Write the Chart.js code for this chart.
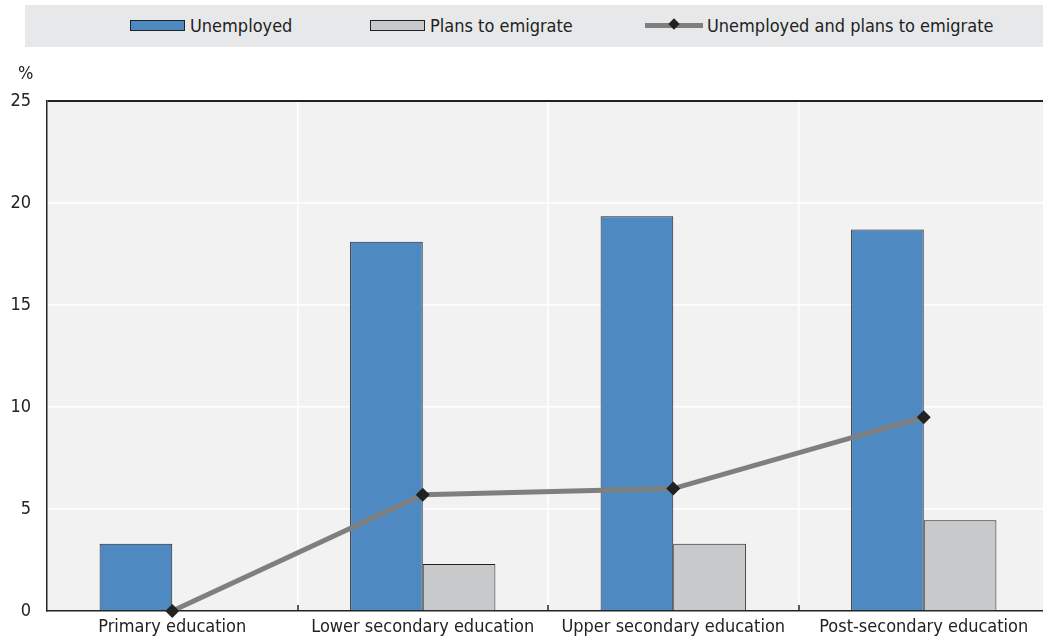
<!DOCTYPE html>
<html>
<head>
<meta charset="utf-8">
<script src="https://cdn.jsdelivr.net/npm/chart.js@4/dist/chart.umd.min.js"></script>
<style>
  html, body { margin: 0; padding: 0; background: #fff; }
  body { width: 1043px; height: 644px; position: relative; overflow: hidden;
         font-family: "DejaVu Sans Condensed", "Liberation Sans Narrow", "Liberation Sans", Arial, sans-serif; color: #222; }
  #chartWrap { position: absolute; left: 0; top: 0; width: 1049px; height: 644px; }
  #legend { position: absolute; left: 25px; top: 5px; width: 1018px; height: 42px; background: #e7e8e9; }
  .item { position: absolute; top: 0; height: 42px; line-height: 42px; font-size: 18px; white-space: nowrap; }
  .sw { position: absolute; top: 15px; width: 55px; height: 11px; border: 1px solid #222; box-sizing: border-box; }
  .lineSw { position: absolute; top: 18px; width: 58px; height: 5px; background: #7f7f7f; }
  .dia { position: absolute; top: 15px; width: 8px; height: 8px; background: #222; transform: rotate(45deg); }
  #pct { position: absolute; left: 18px; top: 62px; font-size: 18px; }
</style>
</head>
<body>
<div id="chartWrap"><canvas id="c" width="1049" height="644"></canvas></div>
<div id="legend">
  <div class="item" style="left:105px"><span class="sw" style="left:0;background:#4f89c1"></span><span style="position:absolute;left:60px">Unemployed</span></div>
  <div class="item" style="left:345px"><span class="sw" style="left:0;background:#c8c9cb"></span><span style="position:absolute;left:60px">Plans to emigrate</span></div>
  <div class="item" style="left:620px"><span class="lineSw" style="left:0"></span><span class="dia" style="left:25px"></span><span style="position:absolute;left:62px">Unemployed and plans to emigrate</span></div>
</div>
<div id="pct">%</div>
<script>
var categories = ["Primary education", "Lower secondary education", "Upper secondary education", "Post-secondary education"];
var unemployed = [3.3, 18.1, 19.35, 18.7];
var plansToEmigrate = [0, 2.3, 3.3, 4.45];
var unemployedAndPlans = [0, 5.7, 6.0, 9.5];
var yTicks = [0, 5, 10, 15, 20, 25];

var FONT = "'DejaVu Sans Condensed', 'Liberation Sans Narrow', 'Liberation Sans', Arial, sans-serif";

var plotBg = {
  id: "plotBg",
  beforeDraw: function (chart) {
    var a = chart.chartArea;
    var ctx = chart.ctx;
    ctx.save();
    ctx.fillStyle = "#f2f2f2";
    ctx.fillRect(a.left, a.top, a.right - a.left, a.bottom - a.top);
    ctx.restore();
  },
  afterDatasetsDraw: function (chart) {
    // small inward tick marks at category boundaries
    var a = chart.chartArea;
    var x = chart.scales.x;
    var ctx = chart.ctx;
    ctx.save();
    ctx.strokeStyle = "#222";
    ctx.lineWidth = 1.5;
    for (var i = 1; i < categories.length; i++) {
      var px = Math.round((x.getPixelForTick(i) + x.getPixelForTick(i - 1)) / 2);
      ctx.beginPath();
      ctx.moveTo(px, a.bottom);
      ctx.lineTo(px, a.bottom - 6);
      ctx.stroke();
    }
    ctx.restore();
  }
};

new Chart(document.getElementById("c"), {
  data: {
    labels: categories,
    datasets: [
      {
        type: "line",
        label: "Unemployed and plans to emigrate",
        data: unemployedAndPlans,
        borderColor: "#7f7f7f",
        borderWidth: 5,
        pointStyle: "rectRot",
        pointRadius: 7,
        pointBackgroundColor: "#222",
        pointBorderColor: "#222",
        pointBorderWidth: 0,
        tension: 0,
        clip: false,
        order: 0
      },
      {
        type: "bar",
        label: "Unemployed",
        data: unemployed,
        backgroundColor: "#4f89c1",
        borderColor: "#222",
        borderWidth: 1,
        categoryPercentage: 0.58,
        barPercentage: 1,
        order: 1
      },
      {
        type: "bar",
        label: "Plans to emigrate",
        data: plansToEmigrate,
        backgroundColor: "#c8c9cb",
        borderColor: "#222",
        borderWidth: 1,
        categoryPercentage: 0.58,
        barPercentage: 1,
        order: 1
      }
    ]
  },
  options: {
    responsive: false,
    animation: false,
    layout: { autoPadding: false, padding: { top: 101, right: 0, bottom: 0, left: 0 } },
    plugins: {
      legend: { display: false },
      tooltip: { enabled: false }
    },
    scales: {
      x: {
        offset: true,
        grid: { color: "#ffffff", lineWidth: 1.5, offset: true, drawTicks: false },
        border: { color: "#222", width: 1.5 },
        ticks: { color: "#222", font: { family: FONT, size: 18 }, padding: 6, maxRotation: 0, autoSkip: false },
        afterFit: function (s) { s.height = 33; s.paddingLeft = 0; s.paddingRight = 0; }
      },
      y: {
        min: 0,
        max: 25,
        afterBuildTicks: function (s) { s.ticks = yTicks.map(function (v) { return { value: v }; }); },
        grid: {
          color: function (c) { return c.tick && c.tick.value === 25 ? "#222" : "#ffffff"; },
          lineWidth: function (c) { return c.tick && c.tick.value === 25 ? 2 : 1.5; },
          drawTicks: false
        },
        border: { color: "#222", width: 1.5 },
        ticks: { color: "#222", font: { family: FONT, size: 18 }, padding: 16 },
        afterFit: function (s) { s.width = 47; }
      }
    }
  },
  plugins: [plotBg]
});
</script>
</body>
</html>
